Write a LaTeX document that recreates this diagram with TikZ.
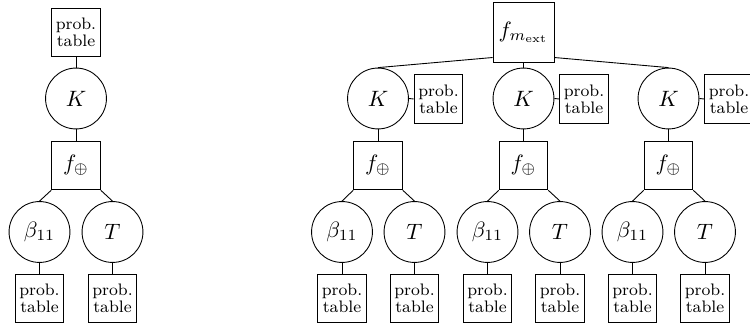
\documentclass[tikz,border=0pt]{standalone}
\begin{document}
\begin{tikzpicture}[x=0.45pt,y=-0.45pt,
  var/.style={circle,draw,minimum size=27.4pt,inner sep=0pt},
  fac/.style={rectangle,draw,minimum size=21.9pt,inner sep=0pt},
  tab/.style={rectangle,draw,minimum size=21.9pt,inner sep=0pt,align=center,
    font=\fontsize{7.5}{7.7}\selectfont},
  ext/.style={rectangle,draw,minimum size=27.4pt,inner sep=0pt}]
\useasboundingbox (0,0) rectangle (750,326);

% single factor tree
\node[tab] (t0) at (76,32.5) {prob.\\table};
\node[var] (k0) at (76,98.5) {$K$};
\node[fac] (f0) at (76,165.5) {$f_\oplus$};
\node[var] (b0) at (39.5,232) {$\beta_{11}$};
\node[var] (c0) at (112.5,232) {$T$};
\node[tab] (tb0) at (39.5,298.5) {prob.\\table};
\node[tab] (tc0) at (112.5,298.5) {prob.\\table};
\draw (t0.south) -- (k0.north);
\draw (k0.south) -- (f0.north);
\draw (f0.south west) -- (b0.north);
\draw (f0.south east) -- (c0.north);
\draw (b0.south) -- (tb0.north);
\draw (c0.south) -- (tc0.north);

% extended tree with three copies
\node[ext] (fm) at (523.5,32.5) {$f_{m_{\mathrm{ext}}}$};
\foreach \i/\x in {1/378,2/523.5,3/668.5}{
  \node[var] (k\i) at (\x,98.5) {$K$};
  \node[tab] (s\i) at (\x+60.5,99) {prob.\\table};
  \node[fac] (f\i) at (\x,165.5) {$f_\oplus$};
  \node[var] (b\i) at (\x-36,232) {$\beta_{11}$};
  \node[var] (c\i) at (\x+36.5,232) {$T$};
  \node[tab] (tb\i) at (\x-36,298.5) {prob.\\table};
  \node[tab] (tc\i) at (\x+36.5,298.5) {prob.\\table};
  \draw (k\i.east) -- (s\i.west);
  \draw (k\i.south) -- (f\i.north);
  \draw (f\i.south west) -- (b\i.north);
  \draw (f\i.south east) -- (c\i.north);
  \draw (b\i.south) -- (tb\i.north);
  \draw (c\i.south) -- (tc\i.north);
}
\draw (fm.219) -- (k1.north);
\draw (fm.south) -- (k2.north);
\draw (fm.321) -- (k3.north);
\end{tikzpicture}
\end{document}
